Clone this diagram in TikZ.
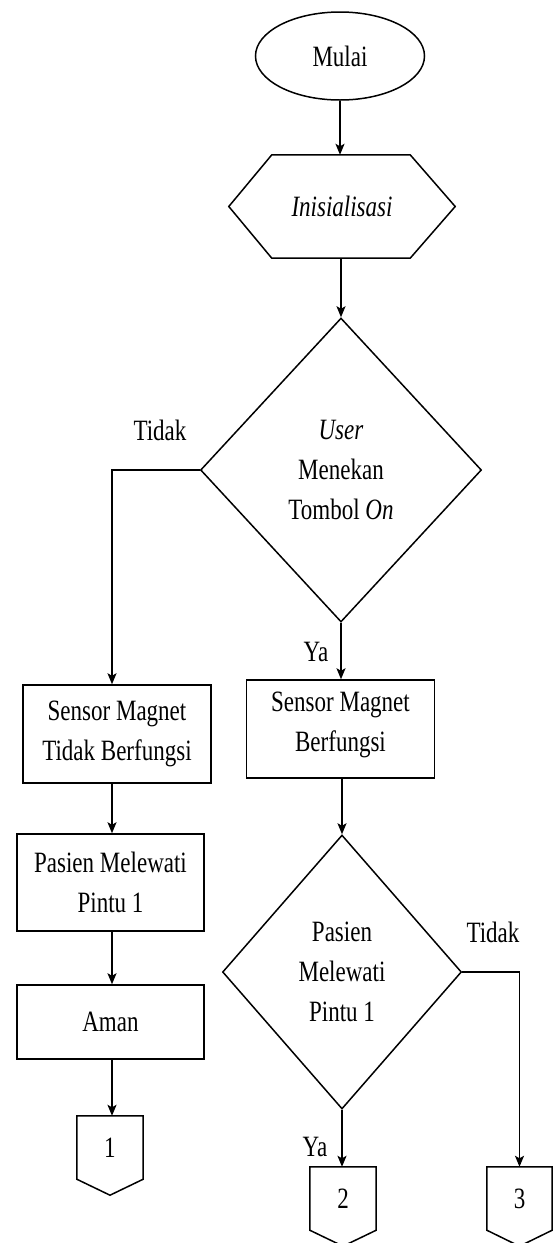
\documentclass[tikz,border=0pt]{standalone}
\usepackage{fontspec}
\setmainfont[FakeStretch=0.78]{Liberation Serif}
\usetikzlibrary{shapes.geometric,arrows.meta}
\begin{document}
\begin{tikzpicture}[x=1pt,y=-1pt,
  base/.style={font=\fontsize{29.5}{40}\selectfont, align=center, inner sep=0pt},
  line/.style={line width=1.5pt, line join=miter},
  arr/.style={line, -{Stealth[length=11pt,width=9pt,inset=2.5pt]}},
  procbox/.style={base, draw, line, rectangle},
  decis/.style={base, draw, line, diamond},
  hid/.style={base, rectangle},
  lab/.style={base}]
\useasboundingbox (0,0) rectangle (552,1243);
% start
\node[base, draw, line, ellipse, minimum width=169pt, minimum height=88pt] (mulai) at (340,56) {Mulai};
% init hexagon
\node[hid, minimum width=226pt, minimum height=103pt] (inis) at (342,206.5) {\itshape Inisialisasi};
\draw[line] (inis.west) -- ([xshift=43pt]inis.north west) -- ([xshift=-45pt]inis.north east)
  -- (inis.east) -- ([xshift=-45pt]inis.south east) -- ([xshift=43pt]inis.south west) -- cycle;
% decision 1
\node[decis, minimum width=281pt, minimum height=304pt] (d1) at (341,470) {\itshape User\\Menekan\\Tombol \textit{On}};
% boxes
\node[procbox, minimum width=188pt, minimum height=98pt, text depth=14pt] (sr) at (340.5,729) {Sensor Magnet\\Berfungsi};
\node[procbox, minimum width=188pt, minimum height=98pt] (sl) at (117,734) {Sensor Magnet\\Tidak Berfungsi};
\node[procbox, minimum width=187pt, minimum height=97pt] (pl) at (110.5,882.5) {Pasien Melewati\\Pintu 1};
\node[procbox, minimum width=187pt, minimum height=74pt] (aman) at (110.5,1022) {Aman};
% decision 2
\node[decis, minimum width=239pt, minimum height=274pt] (d2) at (342,972) {Pasien\\Melewati\\Pintu 1};
% off-page connectors
\node[hid, minimum width=66pt, minimum height=63pt] (c1) at (110,1147.5) {1};
\node[hid, minimum width=66pt, minimum height=63pt] (c2) at (343,1198.5) {2};
\node[hid, minimum width=65pt, minimum height=63pt] (c3) at (519.5,1198.5) {3};
\foreach \c in {c1,c2,c3}{
  \draw[line] (\c.north west) -- (\c.north east) -- (\c.south east) -- ([yshift=-16pt]\c.south) -- (\c.south west) -- cycle;
}
% left column guide
\coordinate (lx) at (112,470);
% connectors
\draw[arr] (mulai.south) -- (mulai.south |- inis.north);
\draw[arr] (inis.south -| d1.north) -- (d1.north);
\draw[arr] (d1.west) -- (lx) -- (lx |- sl.north);
\draw[arr] (d1.south) -- (d1.south |- sr.north);
\draw[arr] (sr.south -| d2.north) -- (d2.north);
\draw[arr] (sl.south -| lx) -- (pl.north -| lx);
\draw[arr] (pl.south -| lx) -- (aman.north -| lx);
\draw[arr] (aman.south -| lx) -- (c1.north -| lx);
\draw[arr] (d2.south) -- (d2.south |- c2.north);
\draw[arr] (d2.east) -- (d2.east -| c3.north) -- (c3.north);
% labels
\node[lab] (t1) at (160,430) {Tidak};
\node[lab] (y1) at (316,652) {Ya};
\node[lab] (t2) at (493,932) {Tidak};
\node[lab] (y2) at (315,1147) {Ya};
\end{tikzpicture}
\end{document}
